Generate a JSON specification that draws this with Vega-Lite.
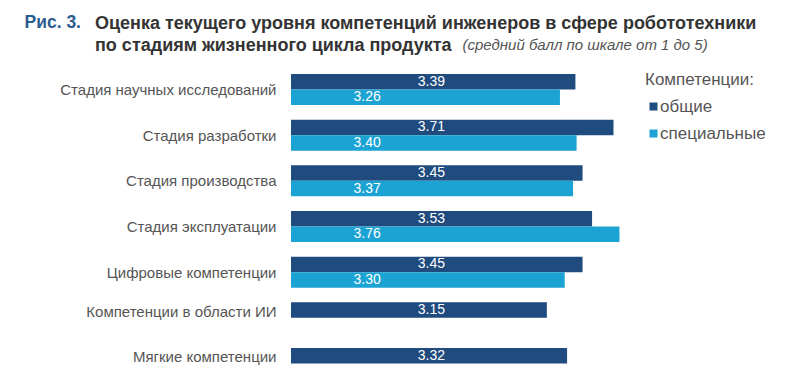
{
  "$schema": "https://vega.github.io/schema/vega-lite/v6.json",
  "width": 357,
  "height": 305,
  "autosize": {"type": "none"},
  "padding": {"left": 291, "top": 74, "right": 152, "bottom": 0},
  "background": "white",
  "config": {
    "font": "Liberation Sans",
    "view": {"stroke": null}
  },
  "title": {
    "text": ["Оценка текущего уровня компетенций инженеров в сфере робототехники", "по стадиям жизненного цикла продукта"],
    "anchor": "start",
    "frame": "group",
    "dx": -196,
    "offset": -42,
    "fontSize": 18,
    "fontWeight": "bold",
    "color": "#333333",
    "lineHeight": 22
  },
  "data": {
    "values": [
      {"stage": "Стадия научных исследований", "type": "общие", "value": 3.39},
      {"stage": "Стадия научных исследований", "type": "специальные", "value": 3.26},
      {"stage": "Стадия разработки", "type": "общие", "value": 3.71},
      {"stage": "Стадия разработки", "type": "специальные", "value": 3.40},
      {"stage": "Стадия производства", "type": "общие", "value": 3.45},
      {"stage": "Стадия производства", "type": "специальные", "value": 3.37},
      {"stage": "Стадия эксплуатации", "type": "общие", "value": 3.53},
      {"stage": "Стадия эксплуатации", "type": "специальные", "value": 3.76},
      {"stage": "Цифровые компетенции", "type": "общие", "value": 3.45},
      {"stage": "Цифровые компетенции", "type": "специальные", "value": 3.30},
      {"stage": "Компетенции в области ИИ", "type": "общие", "value": 3.15},
      {"stage": "Мягкие компетенции", "type": "общие", "value": 3.32}
    ]
  },
  "encoding": {
    "y": {
      "field": "stage",
      "type": "nominal",
      "sort": null,
      "scale": {"paddingInner": 0.32, "paddingOuter": 0},
      "axis": {
        "title": "Рис. 3.",
        "titleAngle": 0,
        "titleX": -267,
        "titleY": -47,
        "titleAlign": "left",
        "titleBaseline": "alphabetic",
        "titleColor": "#2b5c8f",
        "titleFontSize": 17.5,
        "titleFontWeight": "bold",
        "labelFontSize": 15,
        "labelColor": "#555555",
        "labelPadding": 15,
        "labelLimit": 300,
        "labelOffset": {
          "condition": {"test": "datum.value === 'Компетенции в области ИИ' || datum.value === 'Мягкие компетенции'", "value": -6},
          "value": 0.5
        },
        "domain": false,
        "ticks": false,
        "grid": false
      }
    },
    "yOffset": {"field": "type", "type": "nominal", "sort": ["общие", "специальные"], "scale": {"domain": ["общие", "специальные"], "paddingInner": 0, "paddingOuter": 0}}
  },
  "layer": [
    {
      "mark": {"type": "bar"},
      "encoding": {
        "x": {
          "field": "value",
          "type": "quantitative",
          "scale": {"domain": [1, 4], "zero": false, "nice": false},
          "axis": {
            "orient": "top",
            "labels": false,
            "ticks": false,
            "domain": false,
            "grid": false,
            "title": "(средний балл по шкале от 1 до 5)",
            "titleFontStyle": "italic",
            "titleFontWeight": "normal",
            "titleFontSize": 15,
            "titleColor": "#555555",
            "titleX": 171,
            "titleY": -25,
            "titleAlign": "left",
            "titleBaseline": "alphabetic",
            "titleLimit": 400
          }
        },
        "x2": {"datum": 1},
        "color": {
          "field": "type",
          "type": "nominal",
          "scale": {"domain": ["общие", "специальные"], "range": ["#1f4b7e", "#1ba3d3"]},
          "legend": {
            "orient": "none",
            "legendX": 354,
            "legendY": -2,
            "title": "Компетенции:",
            "titleFontSize": 17,
            "titleFontWeight": "normal",
            "titleColor": "#555555",
            "titlePadding": 9,
            "labelFontSize": 17,
            "labelColor": "#555555",
            "labelOffset": -2,
            "symbolType": "square",
            "symbolSize": 64,
            "symbolStrokeWidth": 0,
            "rowPadding": 9
          }
        }
      }
    },
    {
      "transform": [{"filter": "datum.type === 'общие'"}],
      "mark": {"type": "text", "color": "white", "fontSize": 14, "baseline": "middle", "align": "center"},
      "encoding": {
        "x": {"datum": 2.18, "type": "quantitative"},
        "text": {"field": "value", "type": "quantitative", "format": ".2f"}
      }
    },
    {
      "transform": [{"filter": "datum.type === 'специальные'"}],
      "mark": {"type": "text", "color": "white", "fontSize": 14, "baseline": "middle", "align": "center"},
      "encoding": {
        "x": {"datum": 1.64, "type": "quantitative"},
        "text": {"field": "value", "type": "quantitative", "format": ".2f"}
      }
    }
  ]
}
